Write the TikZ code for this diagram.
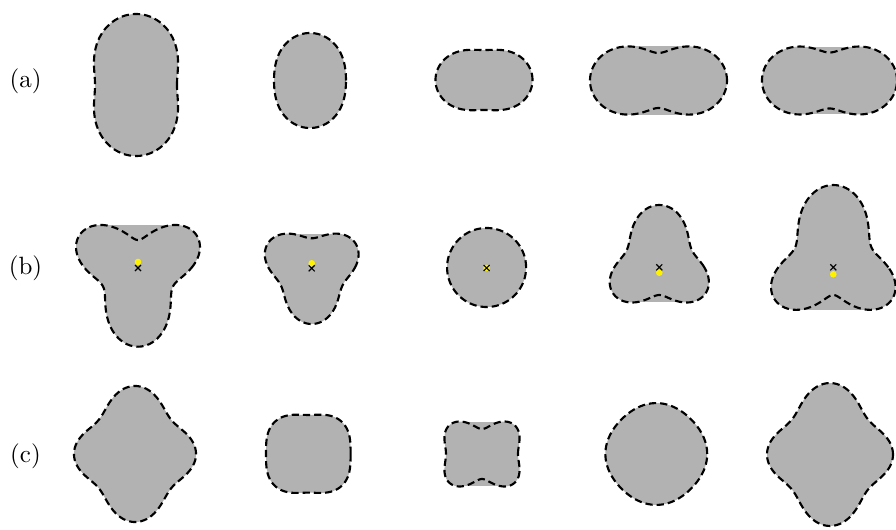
\documentclass[tikz,border=0pt]{standalone}
\usepackage{tikz}

% one closed polar outline: centre, radius r(\x), extra flat fill
\newcommand{\blob}[3]{%
  \begin{scope}[shift={(#1)}]
    \fill[body] plot[domain=0:360,samples=241] (\x:{#2}) -- cycle;
    #3
    \draw[rim] plot[domain=0:360,samples=241] (\x:{#2}) -- cycle;
  \end{scope}}
% centre marks: cross at the origin, yellow dot shifted
\newcommand{\centremarks}[2]{%
  \begin{scope}[shift={(#1)}]
    \fill[yellow] (#2) circle (3.3);
    \draw[mark line] (-3,-3) -- (3,3) (-3,3) -- (3,-3);
  \end{scope}}

\begin{document}
\begin{tikzpicture}[x=0.4pt,y=0.4pt,
body/.style={fill=black!30},
rim/.style={draw=black,line width=0.85pt,dash pattern=on 2.9pt off 1.6pt},
mark line/.style={draw=black,line width=0.45pt},
rowlabel/.style={font=\normalsize}]
\useasboundingbox (0,0) rectangle (896,529);

\node[rowlabel] (la) at (25.5,448) {(a)};
\node[rowlabel] (lb) at (25.5,261) {(b)};
\node[rowlabel] (lc) at (25.5,73) {(c)};

% row (a): two-fold
\blob{136,444}{56*(1-0.268*cos(2*\x))}{}
\blob{310,448.5}{41.75*(1-0.138*cos(2*\x))}{}
\blob{484,449}{39.25*(1+0.236*cos(2*\x))}{}
\blob{658.5,448.5}{48*(1+0.427*cos(2*\x))}{\fill[body] (-30.1,-34.1) rectangle (30.1,34.1);}
\blob{829.5,448.5}{47.75*(1+0.414*cos(2*\x))}{\fill[body] (-29.5,-33.9) rectangle (29.5,33.9);}

% row (b): three-fold
\blob{138,261}{53.35*(1+0.329*sin(3*\x)-0.146*sin(\x))}{\fill[body] (-37.4,0) rectangle (37.4,43);}
\blob{311.7,260.7}{42.85*(1+0.217*sin(3*\x)-0.083*sin(\x))}{\fill[body] (-23.8,0) rectangle (23.8,34.6);}
\blob{486.6,261.5}{39.5}{}
\blob{659.3,261.7}{45*(1-0.247*sin(3*\x)+0.137*sin(\x))}{\fill[body] (-27,0) rectangle (27,-35.1);}
\blob{833.3,261.7}{55*(1-0.307*sin(3*\x)+0.189*sin(\x))}{\fill[body] (-37,0) rectangle (37,-42.5);}
\centremarks{138,261}{0,6}
\centremarks{311.7,260.7}{0,5}
\centremarks{486.6,261}{0,0}
\centremarks{659.3,261.7}{0,-5.4}
\centremarks{833.3,261.7}{0,-7}

% row (c): four-fold
\blob{135,75}{57.25*(1+0.127*cos(4*\x)-0.061*cos(2*\x))}{}
\blob{308.3,75.2}{43.4*(1-0.065*cos(4*\x)+0.04*cos(2*\x))}{}
\blob{482,75}{36.75*(1-0.17*cos(4*\x)+0.15*cos(2*\x))}{\fill[body] (-22.7,-32.4) rectangle (22.7,32.4);}
\blob{656.3,75}{50*(1+0.018*cos(4*\x))}{}
\blob{830,74.5}{59.6*(1+0.128*cos(4*\x)-0.071*cos(2*\x))}{}
\end{tikzpicture}
\end{document}
